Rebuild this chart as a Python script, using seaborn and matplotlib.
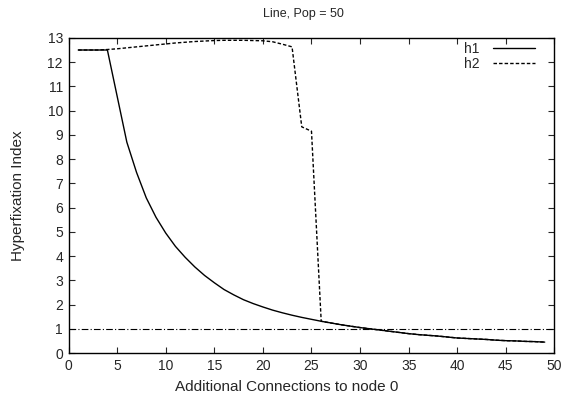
import numpy as np
import pandas as pd
import seaborn as sns
import matplotlib
matplotlib.use("Agg")
import matplotlib.pyplot as plt

# values
conn = list(range(1, 50))
h1 = [12.5, 12.5, 12.5, 12.5, 10.6, 8.7, 7.45, 6.4, 5.6, 4.95,
      4.4, 3.95, 3.55, 3.2, 2.9, 2.62, 2.4, 2.2, 2.04, 1.9,
      1.77, 1.66, 1.56, 1.47, 1.39, 1.31, 1.24, 1.17, 1.11, 1.05,
      1.0, 0.95, 0.9, 0.85, 0.8, 0.76, 0.73, 0.7, 0.66, 0.62,
      0.6, 0.58, 0.56, 0.53, 0.51, 0.5, 0.48, 0.47, 0.45]
h2 = [12.5, 12.5, 12.5, 12.52, 12.55, 12.59, 12.63, 12.67, 12.71, 12.75,
      12.79, 12.82, 12.85, 12.87, 12.89, 12.9, 12.9, 12.9, 12.89, 12.88,
      12.84, 12.74, 12.63, 9.33, 9.15, 1.31, 1.24, 1.17, 1.11, 1.05,
      1.0, 0.95, 0.9, 0.85, 0.8, 0.76, 0.73, 0.7, 0.66, 0.62,
      0.6, 0.58, 0.56, 0.53, 0.51, 0.5, 0.48, 0.47, 0.45]
ref_x = [0, 50]
ref_y = [1, 1]

def set_plot_params(size):
    sns.set_style("ticks")
    plt.rcParams['font.family'] = ['Liberation Sans', 'DejaVu Sans']
    plt.rc('font', size=size)
    plt.rc('axes', titlesize=9, labelsize=11, linewidth=1.0)
    plt.rc('xtick', labelsize=size, direction='in')
    plt.rc('ytick', labelsize=size, direction='in')
    plt.rc('legend', fontsize=size)

def make_plot():
    df = pd.DataFrame({'conn': conn, 'h1': h1, 'h2': h2})
    fig = plt.figure(figsize=(5.71, 4.03), dpi=100)
    ax = fig.add_axes([0.12, 0.124, 0.851, 0.782])

    sns.lineplot(data=df, x='conn', y='h1', ax=ax, color='black', lw=1.0, label='h1')
    sns.lineplot(data=df, x='conn', y='h2', ax=ax, color='black', lw=1.0,
                 linestyle=(0, (2.5, 1.5)), label='h2')
    sns.lineplot(x=ref_x, y=ref_y, ax=ax, color='black', lw=0.8,
                 linestyle=(0, (6, 2, 1, 2)))

    ax.set_xlim(0, 50)
    ax.set_ylim(0, 13)
    ax.set_xticks(range(0, 51, 5))
    ax.set_yticks(range(0, 14))
    ax.tick_params(top=True, right=True, length=4, width=0.8, pad=4)
    for s in ax.spines.values():
        s.set_visible(True)
        s.set_color('black')
    ax.set_xlabel('Additional Connections to node 0', labelpad=3)
    ax.xaxis.set_label_coords(0.45, -0.085)
    ax.set_ylabel('Hyperfixation Index', labelpad=16)
    ax.set_title('Line, Pop = 50', pad=15, x=0.483)

    handles, labels = ax.get_legend_handles_labels()
    ax.legend(handles[:2], labels[:2], loc='upper right', frameon=False,
              markerfirst=False, handlelength=3.0, handletextpad=1.0,
              labelspacing=0.05, borderaxespad=0.3, bbox_to_anchor=(0.98, 1.017))
    fig.savefig('out.png', dpi=100)

if __name__ == "__main__":
    set_plot_params(10)
    make_plot()
